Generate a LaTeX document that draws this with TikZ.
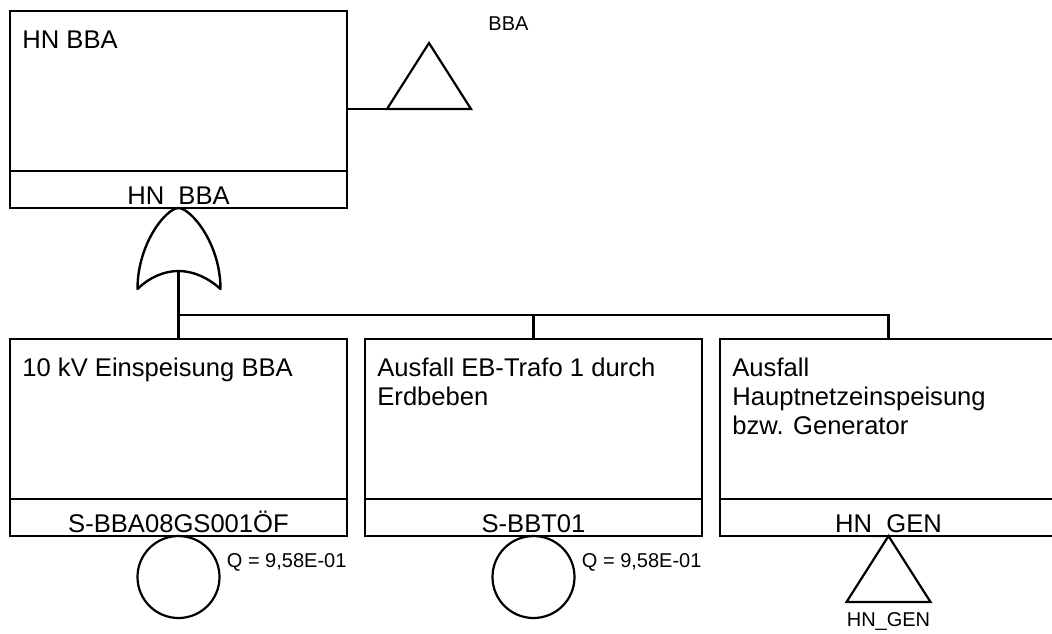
\documentclass[tikz,border=0pt]{standalone}
\usepackage{fontspec}
\setmainfont{Liberation Sans}
\usetikzlibrary{shapes.geometric, positioning}
\newcommand\ftmain{\fontsize{12.8pt}{14.3pt}\selectfont}
\newcommand\ftsmall{\fontsize{10pt}{12pt}\selectfont}
\begin{document}
\begin{tikzpicture}[
  x=0.5pt, y=-0.5pt,
  evbox/.style={rectangle, draw, line width=1.1pt, minimum width=168.5pt,
                minimum height=80pt, inner sep=0pt, outer sep=0pt},
  idbox/.style={rectangle, draw, line width=1.1pt, minimum width=168.5pt,
                minimum height=18.5pt, inner sep=0pt, outer sep=0pt,
                text height=14.5pt, text depth=0pt, font=\ftmain},
  desc/.style={anchor=north west, inner sep=0pt, align=left, font=\ftmain},
  basic/.style={circle, draw, line width=1.1pt, minimum size=41pt,
                inner sep=0pt, outer sep=0pt},
  transfer/.style={isosceles triangle, isosceles triangle stretches,
                   shape border rotate=90, draw, line width=1.1pt,
                   minimum width=42pt, minimum height=33pt,
                   inner sep=0pt, outer sep=0pt},
  small/.style={font=\ftsmall, inner sep=0pt},
  conn/.style={line width=1.2pt},
  gate/.style={line width=1.2pt, line join=round}
]
\useasboundingbox (0,0) rectangle (1052,633);
\clip (0,0) rectangle (1052,633);

%--- Top event ---%
\node[evbox, anchor=north west] (hnbba) at (10,11) {};
\node[idbox, below=0pt of hnbba] (hnbbaid) {HN\_BBA};
\node[desc] (dtop) at ([xshift=6pt, yshift=-9.5pt]hnbba.north west) {HN BBA};

%--- Transfer BBA ---%
\node[transfer, anchor=apex] (tbba) at (429,43) {};
\node[small, anchor=west] (lbba) at ([xshift=29.5pt, yshift=9.5pt]tbba.apex) {BBA};
\draw[conn] (hnbba.east |- tbba.lower side) -- (tbba.lower side);

%--- OR gate ---%
\coordinate (org) at (hnbbaid.south);
\begin{scope}[shift={(org)}]
  \draw[gate] (0,0) .. controls (-12,0) and (-41,35) .. (-41,81)
    .. controls (-30,70) and (-15,63) .. (0,63)
    .. controls (15,63) and (30,70) .. (42,81)
    .. controls (42,35) and (12,0) .. (0,0) -- cycle;
  \coordinate (orout) at (0,63);
\end{scope}

%--- Child events ---%
\node[evbox, anchor=north west] (e1) at (10,339) {};
\node[evbox, right=9pt of e1] (e2) {};
\node[evbox, right=9pt of e2] (e3) {};
\node[idbox, below=0pt of e1] (s1) {S-BBA08GS001ÖF};
\node[idbox, below=0pt of e2] (s2) {S-BBT01};
\node[idbox, below=0pt of e3] (s3) {HN\_GEN};

\node[desc] (d1) at ([xshift=6pt, yshift=-9.5pt]e1.north west) {10 kV Einspeisung BBA};
\node[desc] (d2) at ([xshift=6pt, yshift=-9.5pt]e2.north west) {Ausfall EB-Trafo 1 durch\\Erdbeben};
\node[desc] (d3) at ([xshift=6pt, yshift=-9.5pt]e3.north west) {Ausfall\\Hauptnetzeinspeisung\\bzw. Generator};

%--- Basic events and transfer ---%
\node[basic, below=0pt of s1] (c1) {};
\node[basic, below=0pt of s2] (c2) {};
\node[small, anchor=west] (q1) at ([xshift=3.5pt, yshift=7.5pt]c1.east) {Q = 9,58E-01};
\node[small, anchor=west] (q2) at ([xshift=3.5pt, yshift=7.5pt]c2.east) {Q = 9,58E-01};
\node[transfer, anchor=apex] (tgen) at (s3.south) {};
\node[small, below=5pt of tgen.lower side] (lgen) {HN\_GEN};

%--- Connectors ---%
\coordinate (bar) at (178,315);
\draw[conn] (orout) -- (e1.north);
\draw[conn] (bar -| e1.north) -| (e2.north);
\draw[conn] (bar -| e1.north) -| (e3.north);

\end{tikzpicture}
\end{document}
